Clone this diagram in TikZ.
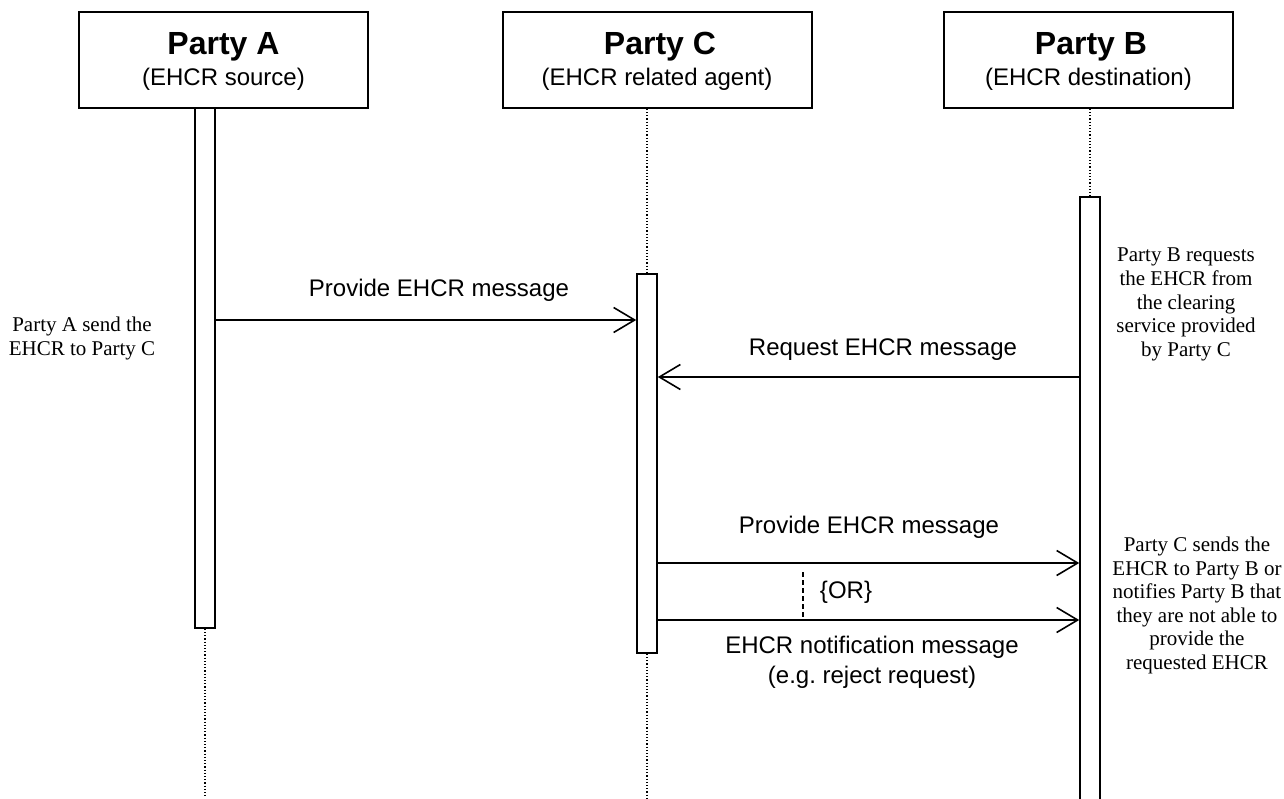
\documentclass[tikz,border=0pt]{standalone}
\usepackage{fontspec}
\setmainfont{Liberation Serif}
\newfontfamily\arial{Liberation Sans}
\usetikzlibrary{arrows.meta}
\begin{document}
\begin{tikzpicture}[x=1pt,y=-1pt,
  hdr/.style={draw, line width=1.6pt, inner sep=0pt},
  act/.style={draw, fill=white, line width=1.6pt, minimum width=20pt, inner sep=0pt},
  life/.style={line width=1.2pt, dash pattern=on 1.2pt off 2pt},
  msg/.style={line width=1.6pt, -{Straight Barb[length=21pt,width=25pt]}},
  ordash/.style={line width=1.2pt, dash pattern=on 5pt off 3pt},
  ttl/.style={font=\arial\bfseries\fontsize{32}{36}\selectfont, anchor=base, inner sep=0pt},
  sub/.style={font=\arial\fontsize{24}{28}\selectfont, anchor=base, inner sep=0pt},
  lbl/.style={font=\arial\fontsize{24}{28}\selectfont, anchor=base, inner sep=0pt},
  note/.style={font=\fontsize{21}{23.6}\selectfont, align=center, inner sep=0pt}]
\useasboundingbox (0,0) rectangle (1284,798);
\coordinate (bot) at (0,798);
% header boxes
\node[hdr, minimum width=289pt, minimum height=96pt] (hA) at (223.5,60) {};
\node[hdr, minimum width=309pt, minimum height=96pt] (hC) at (657.5,60) {};
\node[hdr, minimum width=289pt, minimum height=96pt] (hB) at (1088.5,60) {};
\node[ttl] (tA) at (223.5,54) {Party A};
\node[sub] (sA) at (223.5,85) {(EHCR source)};
\node[ttl] (tC) at (660,54) {Party C};
\node[sub] (sC) at (657,85) {(EHCR related agent)};
\node[ttl] (tB) at (1091,54) {Party B};
\node[sub] (sB) at (1088.5,85) {(EHCR destination)};
% activation boxes
\node[act, minimum height=520pt] (actA) at (205,368) {};
\node[act, minimum height=379pt] (actC) at (647,463.5) {};
\node[act, minimum height=608pt] (actB) at (1090,501) {};
% lifelines
\draw[life] (actA.south) -- (actA.south |- bot);
\draw[life] (actC.north |- hC.south) -- (actC.north);
\draw[life] (actC.south) -- (actC.south |- bot);
\draw[life] (actB.north |- hB.south) -- (actB.north);
% messages
\coordinate (y1) at (0,320);
\coordinate (y2) at (0,377);
\coordinate (y3) at (0,563);
\coordinate (y4) at (0,620);
\draw[msg] (actA.east |- y1) -- (actC.west |- y1);
\draw[msg] (actB.west |- y2) -- (actC.east |- y2);
\draw[msg] (actC.east |- y3) -- (actB.west |- y3);
\draw[msg] (actC.east |- y4) -- (actB.west |- y4);
\coordinate (orTop) at (803,572);
\draw[ordash] (orTop) -- (orTop |- y4);
% labels
\node[lbl] (l1) at (439,296) {Provide EHCR message};
\node[lbl] (l2) at (883,355) {Request EHCR message};
\node[lbl] (l3) at (869,533) {Provide EHCR message};
\node[lbl] (lor) at (846,598) {\{OR\}};
\node[lbl] (l4) at (872,653) {EHCR notification message};
\node[lbl] (l4b) at (872,683) {(e.g.\ reject request)};
% notes
\node[note] (nA) at (82,338.5) {Party A send the\\EHCR to Party C};
\node[note] (nB) at (1186,304.5) {Party B requests\\the EHCR from\\the clearing\\service provided\\by Party C};
\node[note] (nC) at (1197,605.5) {Party C sends the\\EHCR to Party B or\\notifies Party B that\\they are not able to\\provide the\\requested EHCR};
\end{tikzpicture}
\end{document}
